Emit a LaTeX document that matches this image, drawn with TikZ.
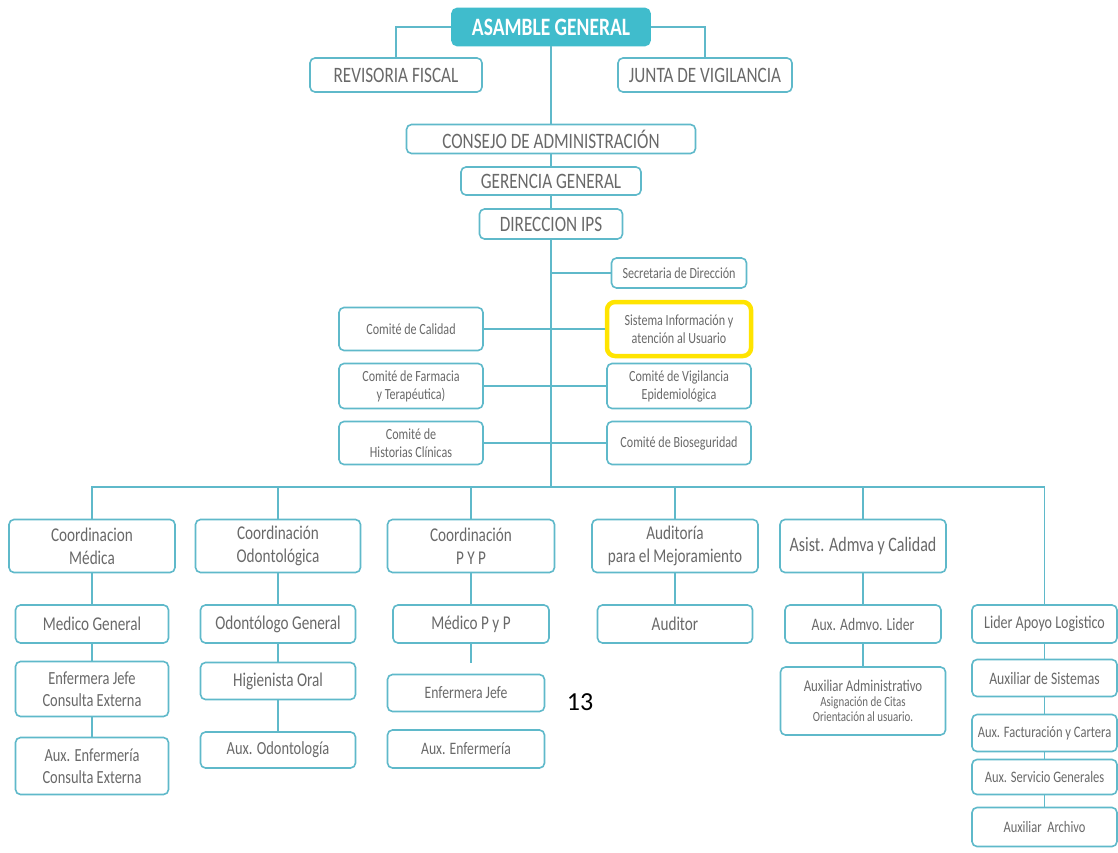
\documentclass[tikz,border=0pt]{standalone}
\usepackage{fontspec}
\setmainfont{Carlito}
\newfontfamily\orgfont[FakeStretch=0.78]{Carlito}
\usetikzlibrary{positioning, calc}
\definecolor{OrgTeal}{RGB}{64,188,204}
\definecolor{OrgLine}{RGB}{95,185,202}
\definecolor{OrgText}{RGB}{105,105,105}
\definecolor{OrgYellow}{RGB}{255,228,0}

\begin{document}
\begin{tikzpicture}[x=1pt, y=-1pt,
      box/.style={rectangle, rounded corners=5pt, draw=OrgLine,
                  line width=1.6pt, fill=white, text=OrgText,
                  align=center, inner sep=2pt},
      sz/.style 2 args={minimum width=#1pt, minimum height=#2pt},
      caps/.style={box, font=\orgfont\fontsize{22}{24}\selectfont},
      com/.style={box, font=\orgfont\fontsize{15.5}{18}\selectfont},
      crd/.style={box, font=\orgfont\fontsize{19.5}{23}\selectfont},
      sml/.style={box, font=\orgfont\fontsize{17.5}{19}\selectfont},
      conn/.style={OrgLine, line width=1.8pt}
    ]
    \fill[white] (0,0) rectangle (1118,853);

    %--- Top of the chart ---
    \node[box, sz={198}{37}, fill=OrgTeal, draw=OrgTeal, text=white,
          font=\orgfont\bfseries\fontsize{25}{27}\selectfont]
          (asamblea) at (551,27) {ASAMBLE GENERAL};
    \node[caps, sz={172}{34}] (revisoria) at (396,75) {REVISORIA FISCAL};
    \node[caps, sz={174}{34}] (junta) at (705,75) {JUNTA DE VIGILANCIA};
    \node[caps, sz={289}{29}] (consejo) at (551,139) {CONSEJO DE ADMINISTRACIÓN};
    \node[caps, sz={180}{28}] (gerencia) at (551,181) {GERENCIA GENERAL};
    \node[caps, sz={143}{30}] (direccion) at (551,224) {DIRECCION IPS};

    \draw[conn] (asamblea.west) -| (revisoria.north);
    \draw[conn] (asamblea.east) -| (junta.north);
    \draw[conn] (asamblea) -- (consejo);
    \draw[conn] (consejo) -- (gerencia);
    \draw[conn] (gerencia) -- (direccion);

    %--- Committees ---
    \node[com, sz={135}{30}] (secre) at (679,273) {Secretaria de Dirección};
    \node[com, sz={144}{54}, draw=OrgYellow, line width=4.5pt,
          rounded corners=8pt]
          (sistema) at (679,329) {Sistema Información y\\atención al Usuario};
    \node[com, sz={144}{45}] (vigilancia) at (679,386)
          {Comité de Vigilancia\\Epidemiológica};
    \node[com, sz={144}{43}] (bioseg) at (679,443) {Comité de Bioseguridad};
    \node[com, sz={144}{43}] (calidad) at (411,329) {Comité de Calidad};
    \node[com, sz={144}{45}] (farmacia) at (411,386)
          {Comité de Farmacia\\y Terapéutica)};
    \node[com, sz={144}{43}] (historias) at (411,443)
          {Comité de\\Historias Clínicas};

    \coordinate (bus) at (551,487);
    \draw[conn] (direccion) -- (bus);
    \draw[conn] (direccion.south |- secre.west) -- (secre.west);
    \draw[conn] (calidad.east) -- (sistema.west);
    \draw[conn] (farmacia.east) -- (vigilancia.west);
    \draw[conn] (historias.east) -- (bioseg.west);

    %--- Coordinations ---
    \node[crd, sz={166}{53}] (coordmed) at (92,546) {Coordinacion\\Médica};
    \node[crd, sz={165}{53}] (coordodo) at (278,546) {Coordinación\\Odontológica};
    \node[crd, sz={167}{53}] (coordpyp) at (471,546) {Coordinación\\P Y P};
    \node[crd, sz={166}{53}] (audit) at (675,546) {Auditoría\\para el Mejoramiento};
    \node[crd, sz={166}{53}, font=\orgfont\fontsize{20.5}{22}\selectfont]
          (asist) at (863,546) {Asist. Admva y Calidad};

    \node[crd, sz={153}{38}] (medgen) at (92,624) {Medico General};
    \node[crd, sz={155}{38}] (odogen) at (278,624) {Odontólogo General};
    \node[crd, sz={156}{38}] (medpyp) at (471,624) {Médico P y P};
    \node[crd, sz={155}{38}] (auditor) at (675,624) {Auditor};
    \node[sml, sz={156}{38}] (auxlider) at (863,624) {Aux. Admvo. Lider};
    \node[box, sz={145}{38}, font=\orgfont\fontsize{18}{20}\selectfont]
          (lider) at (1044.5,624) {Lider Apoyo Logistico};

    \draw[conn] (coordmed.north) |- (bus) -| (lider.north);
    \foreach \n in {coordodo, coordpyp, audit, asist}
      \draw[conn] (\n.north) -- (\n.north |- bus);

    %--- Staff ---
    \node[crd, sz={153}{55}, font=\orgfont\fontsize{18.5}{22}\selectfont]
          (enfce) at (92,689) {Enfermera Jefe\\Consulta Externa};
    \node[crd, sz={153}{57}, font=\orgfont\fontsize{18.5}{22}\selectfont]
          (auxce) at (92,766) {Aux. Enfermería\\Consulta Externa};
    \node[crd, sz={155}{37}] (higien) at (278,681) {Higienista Oral};
    \node[crd, sz={155}{36}, font=\orgfont\fontsize{18.5}{20}\selectfont]
          (auxodo) at (278,750) {Aux. Odontología};
    \node[sml, sz={157}{37}] (enfpyp) at (466,693) {Enfermera Jefe};
    \node[sml, sz={157}{38}] (auxpyp) at (466,749) {Aux. Enfermería};
    \coordinate (pypend) at (471,663);
    \node[box, sz={165}{68}, font=\orgfont\fontsize{16.5}{15}\selectfont]
          (auxadm) at (863,701)
          {Auxiliar Administrativo\\
           \fontsize{14}{14}\selectfont Asignación de Citas\\
           \fontsize{14}{14}\selectfont Orientación al usuario.};

    \node[sml, sz={145}{37}] (auxsis) at (1044.5,678) {Auxiliar de Sistemas};
    \node[box, sz={145}{37}, font=\orgfont\fontsize{16}{18}\selectfont]
          (auxfac) at (1044.5,733) {Aux. Facturación y Cartera};
    \node[box, sz={145}{35}, font=\orgfont\fontsize{16}{18}\selectfont]
          (auxserv) at (1044.5,777) {Aux. Servicio Generales};
    \node[box, sz={145}{39}, font=\orgfont\fontsize{16}{18}\selectfont]
          (auxarch) at (1044.5,827) {Auxiliar\ \ Archivo};

    \foreach \a/\b in {coordmed/medgen, medgen/enfce, enfce/auxce,
                       coordodo/odogen, odogen/higien, higien/auxodo,
                       coordpyp/medpyp, audit/auditor,
                       asist/auxlider, auxlider/auxadm,
                       lider/auxsis, auxsis/auxfac, auxfac/auxserv,
                       auxserv/auxarch}
      \draw[conn] (\a) -- (\b);
    \draw[conn] (medpyp.south) -- (pypend);

    %--- Page number ---
    \node[font=\fontsize{26}{28}\selectfont] (pagenum) at (580,702) {13};
  \end{tikzpicture}
\end{document}
